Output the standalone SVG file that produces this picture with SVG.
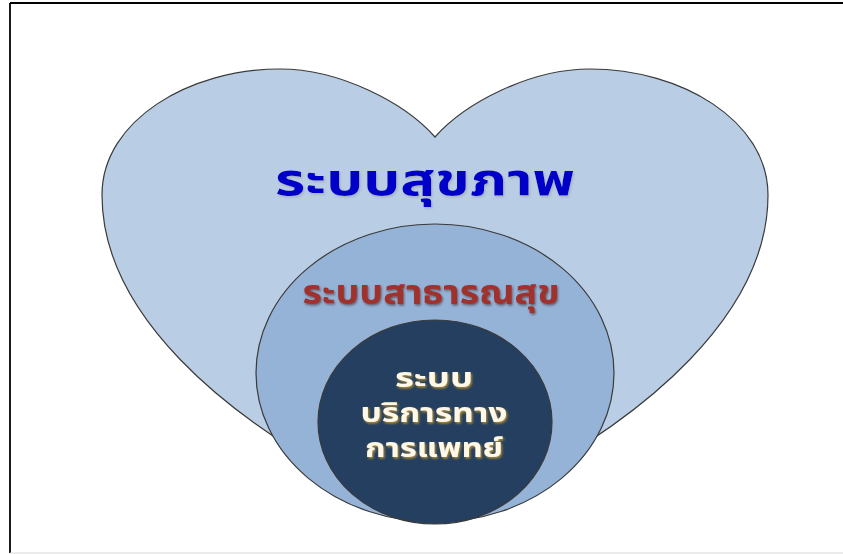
<svg xmlns="http://www.w3.org/2000/svg" width="843" height="554" viewBox="0 0 843 554">
  <style>
    .shape { stroke: #3a3a3a; stroke-width: 1.2; }
    .t { font-family: "Noto Sans Thai", "Noto Sans", "DejaVu Sans", sans-serif; font-weight: bold; text-anchor: middle; }
    .t1 { fill: #0000C8; font-size: 44px; }
    .t2 { fill: #A0302D; font-size: 34px; }
    .t3 { fill: #FFF8E6; font-size: 26px; }
  </style>
  <defs>
    <filter id="sh1" x="-10%" y="-30%" width="120%" height="160%">
      <feDropShadow dx="1.2" dy="1.5" stdDeviation="1.2" flood-color="#8a8a8a" flood-opacity="0.45"/>
    </filter>
    <filter id="sh2" x="-10%" y="-30%" width="120%" height="160%">
      <feDropShadow dx="1" dy="1.5" stdDeviation="1" flood-color="#3a2020" flood-opacity="0.6"/>
    </filter>
    <filter id="sh3" x="-10%" y="-30%" width="120%" height="160%">
      <feDropShadow dx="1.2" dy="1.5" stdDeviation="0.8" flood-color="#C89A2A" flood-opacity="0.9"/>
    </filter>
  </defs>
  <rect x="0" y="0" width="843" height="554" fill="#ffffff"/>
  <g id="frame">
    <line x1="10" y1="3" x2="843" y2="3" stroke="#000" stroke-width="1.8"/>
    <line x1="10" y1="3" x2="10" y2="553" stroke="#000" stroke-width="1.8"/>
    <line x1="10" y1="553" x2="843" y2="553" stroke="#d8d8d8" stroke-width="1"/>
  </g>
  <g id="heart">
    <path class="shape" fill="#B9CDE5" d="M435,137 C405,103 340,69 280,69 C190,69 102,120 102,195 C102,300 200,420 435,523 C670,420 768,300 768,195 C768,120 680,69 590,69 C530,69 465,103 435,137 Z"/>
    <text class="t t1" x="425" y="195" textLength="300" lengthAdjust="spacingAndGlyphs" filter="url(#sh1)">ระบบสุขภาพ</text>
  </g>
  <g id="public-health">
    <ellipse class="shape" fill="#95B3D7" cx="435" cy="373" rx="179" ry="149"/>
    <text class="t t2" x="431" y="304" textLength="257" lengthAdjust="spacingAndGlyphs" filter="url(#sh2)">ระบบสาธารณสุข</text>
  </g>
  <g id="medical-service">
    <ellipse class="shape" fill="#243F60" cx="435" cy="422" rx="117" ry="102"/>
    <g class="t t3" filter="url(#sh3)">
      <text x="434" y="387" textLength="78" lengthAdjust="spacingAndGlyphs">ระบบ</text>
      <text x="434" y="422" textLength="147" lengthAdjust="spacingAndGlyphs">บริการทาง</text>
      <text x="434" y="457" textLength="138" lengthAdjust="spacingAndGlyphs">การแพทย์</text>
    </g>
  </g>
  <g id="connectors"/>
</svg>
